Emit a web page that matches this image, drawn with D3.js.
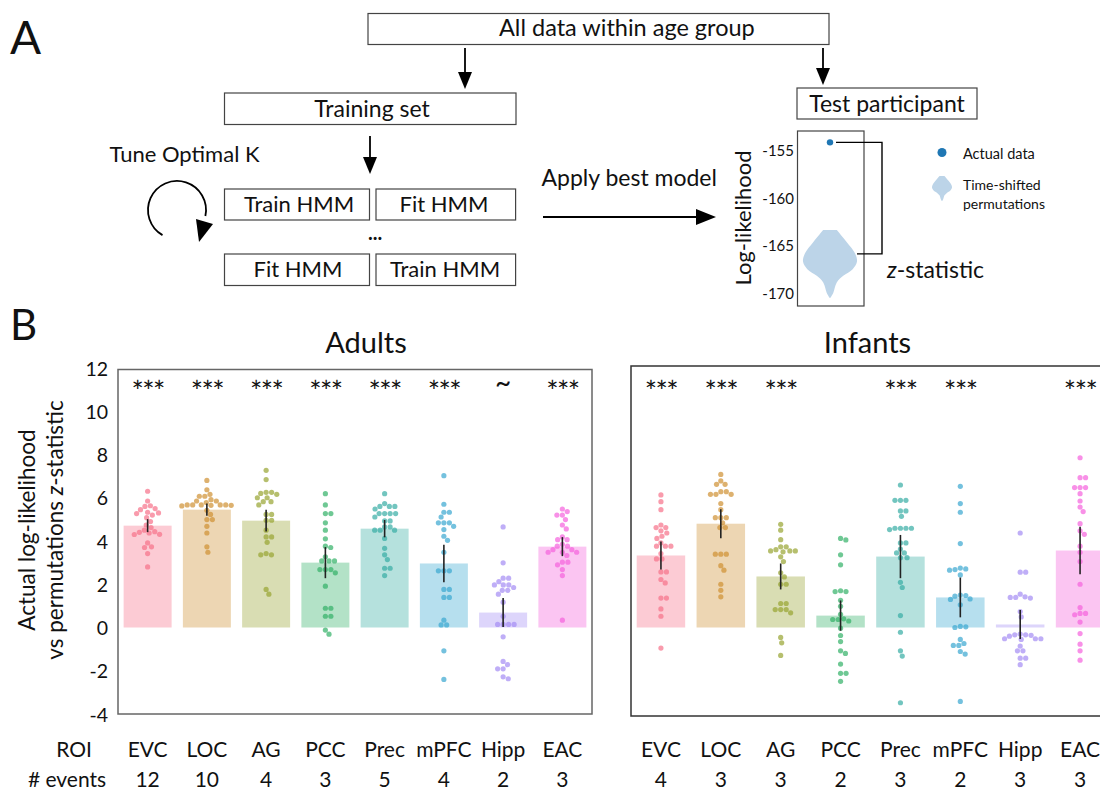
<!DOCTYPE html>
<html>
<head>
    <title>HMM event model fits</title>
    <script src="https://d3js.org/d3.v7.min.js"></script>
    <style>
        body {
            margin: 0;
            background: #fff;
            font-family: Lato, "Open Sans", sans-serif;
        }
        svg text {
            fill: #111;
        }
    </style>
</head>
<body>
    <div id="chart"></div>

    <script>
        // ROI labels and number of events per group
        const rois = ['EVC', 'LOC', 'AG', 'PCC', 'Prec', 'mPFC', 'Hipp', 'EAC'];
        const adultEvents = [12, 10, 4, 3, 5, 4, 2, 3];
        const infantEvents = [4, 3, 3, 2, 3, 2, 3, 3];

        // bar heights (mean z) and SEM
        const adultMeans = [4.71, 5.45, 4.94, 3.0, 4.57, 2.96, 0.69, 3.74];
        const adultErr = [0.3, 0.28, 0.5, 0.72, 0.4, 0.87, 0.67, 0.44];
        const infantMeans = [3.33, 4.8, 2.36, 0.55, 3.28, 1.39, 0.14, 3.56];
        const infantErr = [0.65, 0.67, 0.6, 0.7, 1.0, 0.92, 0.67, 1.1];

        // significance markers
        const adultSig = ['***', '***', '***', '***', '***', '***', '~', '***'];
        const infantSig = ['***', '***', '***', '', '***', '***', '', '***'];

        // per participant z-statistics, adults
        const adultEVC = [6.3, 5.85, 5.6, 5.63, 5.5, 5.45, 5.33, 5.3, 5.27, 5.2, 5.08, 4.9, 4.74, 4.62, 4.5, 4.43, 4.4, 4.37, 4.31, 4.3, 3.91, 3.73, 3.7, 3.42, 2.8];
        const adultLOC = [6.8, 6.37, 6.16, 6.07, 6.07, 5.91, 5.85, 5.85, 5.78, 5.67, 5.67, 5.67, 5.67, 5.67, 5.65, 5.65, 5.62, 5.42, 5.23, 4.99, 4.99, 4.68, 4.37, 3.73, 3.48];
        const adultAG = [7.27, 6.84, 6.25, 6.25, 6.2, 6.16, 6.0, 6.0, 5.82, 5.82, 5.67, 5.23, 5.23, 4.96, 4.96, 4.5, 4.19, 4.19, 3.94, 3.42, 3.36, 3.36, 1.76, 1.54];
        const adultPCC = [6.19, 5.67, 5.27, 5.27, 4.84, 4.5, 4.1, 3.76, 3.7, 3.27, 3.08, 3.08, 3.08, 2.68, 2.68, 2.68, 2.53, 1.91, 0.89, 0.89, 0.52, 0.52, -0.12, -0.31];
        const adultPrec = [6.19, 5.73, 5.6, 5.6, 5.6, 5.48, 5.27, 5.27, 5.27, 5.27, 5.11, 4.93, 4.93, 4.65, 4.65, 4.5, 4.5, 4.5, 4.12, 3.66, 3.36, 3.14, 2.74, 2.74, 2.4];
        const adultMPFC = [7.02, 5.7, 5.33, 5.33, 5.11, 4.84, 4.84, 4.84, 4.68, 4.53, 4.22, 4.03, 3.48, 2.62, 2.62, 2.62, 1.76, 1.76, 1.39, 1.39, 0.34, 0.12, 0.12, -1.08, -2.4];
        const adultHipp = [4.65, 2.99, 2.28, 2.28, 2.12, 1.97, 1.97, 1.97, 1.85, 1.72, 1.72, 1.54, 1.17, 0.52, 0.14, 0.14, 0.14, 0.14, -0.43, -1.57, -1.72, -1.91, -1.91, -2.28, -2.37];
        const adultEAC = [5.48, 5.36, 5.2, 5.2, 4.99, 4.74, 4.56, 4.19, 4.06, 4.06, 3.85, 3.76, 3.76, 3.6, 3.6, 3.48, 3.48, 3.48, 3.33, 3.02, 3.02, 2.9, 2.68, 2.4, 0.34];

        // per participant z-statistics, infants
        const infantEVC = [6.13, 5.82, 5.45, 4.74, 4.62, 4.62, 4.47, 4.37, 4.22, 4.12, 3.91, 3.76, 3.76, 3.76, 3.42, 3.17, 3.17, 2.57, 2.57, 2.22, 2.06, 1.36, 1.36, 0.86, 0.52, -0.95];
        const infantLOC = [7.08, 6.78, 6.62, 6.62, 6.28, 6.28, 6.16, 6.16, 6.16, 5.73, 5.45, 5.08, 5.08, 5.08, 4.84, 4.62, 4.62, 3.39, 3.39, 3.39, 2.86, 2.65, 2.0, 1.72, 1.42];
        const infantAG = [4.77, 4.5, 4.06, 3.73, 3.73, 3.6, 3.54, 3.54, 3.54, 3.5, 3.27, 3.05, 2.53, 2.34, 2.0, 2.0, 1.11, 1.11, 0.83, 0.83, 0.83, 0.68, -0.46, -0.71, -1.29];
        const infantPCC = [4.12, 4.05, 3.36, 2.9, 1.7, 1.66, 1.66, 1.26, 0.98, 0.61, 0.4, 0.37, 0.37, 0.3, -0.03, -0.37, -0.65, -1.08, -1.2, -1.69, -2.12, -2.12, -2.49];
        const infantPrec = [6.59, 5.88, 5.88, 5.88, 5.39, 5.39, 5.14, 4.59, 4.59, 4.59, 4.59, 4.53, 3.91, 3.91, 3.63, 3.45, 3.45, 3.23, 3.23, 2.09, 1.85, 0.55, -0.22, -1.08, -1.32, -3.48];
        const infantMPFC = [6.53, 5.73, 5.33, 3.88, 2.75, 2.71, 2.68, 2.65, 2.43, 1.5, 1.48, 1.45, 1.32, 1.3, 1.05, 0.05, 0.03, 0.0, -0.55, -0.74, -0.83, -0.83, -1.11, -1.23, -3.42];
        const infantHipp = [4.37, 2.56, 2.56, 1.54, 1.42, 1.39, 1.39, 1.36, 0.74, 0.49, -0.3, -0.34, -0.34, -0.36, -0.4, -0.52, -0.52, -0.52, -0.55, -0.86, -1.08, -1.08, -1.42, -1.42, -1.72];
        const infantEAC = [7.85, 6.93, 6.93, 6.47, 6.47, 6.47, 6.19, 5.85, 5.57, 5.36, 4.8, 4.47, 4.31, 3.76, 3.48, 3.05, 2.0, 0.92, 0.65, 0.65, 0.59, 0.25, -0.28, -0.77, -1.08, -1.51];

        const adultPoints = [adultEVC, adultLOC, adultAG, adultPCC, adultPrec, adultMPFC, adultHipp, adultEAC];
        const infantPoints = [infantEVC, infantLOC, infantAG, infantPCC, infantPrec, infantMPFC, infantHipp, infantEAC];

        const yTicks = [-4, -2, 0, 2, 4, 6, 8, 10, 12];

        // inset: one test participant
        const insetTicks = [-155, -160, -165, -170];
        const actualLL = -154.2;
        const permMeanLL = -165.9;
        const violinLL = [-163.4, -164.7, -165.8, -166.7, -167.5, -168.2, -168.9, -170.0, -170.5];
        const violinDensity = [0.25, 0.63, 0.92, 1.0, 0.84, 0.49, 0.25, 0.12, 0.02];

        const palette = ['#f77189', '#ce9032', '#97a431', '#32b166', '#36ada4', '#39a7d0', '#a48cf4', '#f561dd'];

        const width = 1100, height = 789;
        const svg = d3.select('#chart').append('svg')
            .attr('width', width)
            .attr('height', height);

        // ---------- helpers ----------
        function box(x0, y0, x1, y1) {
            svg.append('rect')
                .attr('x', x0).attr('y', y0)
                .attr('width', x1 - x0).attr('height', y1 - y0)
                .attr('fill', 'none')
                .attr('stroke', '#444')
                .attr('stroke-width', 1.2);
        }

        function label(x, y, txt, size, anchor) {
            return svg.append('text')
                .attr('x', x).attr('y', y)
                .attr('font-size', size)
                .attr('text-anchor', anchor || 'middle')
                .text(txt);
        }

        function arrowDown(x, y0, y1) {
            svg.append('line')
                .attr('x1', x).attr('x2', x)
                .attr('y1', y0).attr('y2', y1 - 12)
                .attr('stroke', '#000').attr('stroke-width', 1.8);
            svg.append('path')
                .attr('d', `M${x - 7},${y1 - 17}L${x + 7},${y1 - 17}L${x},${y1}Z`)
                .attr('fill', '#000');
        }

        // ---------- panel A ----------
        label(10, 54, 'A', 46, 'start');

        box(368, 13.5, 829, 44.5);
        label(499, 36, 'All data within age group', 23.5, 'start');
        arrowDown(465, 48, 89);
        arrowDown(823, 48, 85);

        box(224.5, 93, 516, 124.5);
        label(372, 117, 'Training set', 23);

        box(797, 88, 977, 119);
        label(887, 112, 'Test participant', 23);

        label(109.5, 162, 'Tune Optimal K', 22, 'start');
        arrowDown(370, 136, 174);

        box(224.5, 189, 369.5, 220);
        box(376, 189, 515.6, 220);
        box(224.5, 254, 369.5, 285.5);
        box(376, 254, 515.6, 285.5);
        label(299, 212, 'Train HMM', 22);
        label(444, 212, 'Fit HMM', 22);
        label(298, 277, 'Fit HMM', 22);
        label(445, 277, 'Train HMM', 22);
        label(375, 240, '...', 20).attr('font-weight', 'bold');

        // circular arrow
        const loop = d3.path();
        loop.arc(177, 210, 29, 120 * Math.PI / 180, 372 * Math.PI / 180);
        svg.append('path')
            .attr('d', loop.toString())
            .attr('fill', 'none')
            .attr('stroke', '#000')
            .attr('stroke-width', 1.8);
        svg.append('path')
            .attr('d', 'M196,219L213,224L199,242Z')
            .attr('fill', '#000');

        label(541.5, 186, 'Apply best model', 23, 'start');
        svg.append('line')
            .attr('x1', 543).attr('x2', 700)
            .attr('y1', 217).attr('y2', 217)
            .attr('stroke', '#000').attr('stroke-width', 1.8);
        svg.append('path')
            .attr('d', 'M696,209L716,217L696,225Z')
            .attr('fill', '#000');

        // inset log-likelihood
        const yInset = d3.scaleLinear().domain([-155, -170]).range([150, 293]);
        box(797.5, 131, 864, 306);
        insetTicks.forEach(t => {
            label(794, yInset(t), t, 15, 'end').attr('dominant-baseline', 'central');
        });
        svg.append('text')
            .attr('transform', `translate(751,218) rotate(-90)`)
            .attr('text-anchor', 'middle')
            .attr('font-size', 22)
            .text('Log-likelihood');

        const vx = d3.scaleLinear().domain([0, 1]).range([0, 27]);
        const violinArea = d3.area()
            .y(d => d.y)
            .curve(d3.curveCatmullRom);
        svg.append('path')
            .attr('d', violinArea
                .x0(d => 830 - d.w)
                .x1(d => 830 + d.w)(violinLL.map((v, i) => ({ y: yInset(v), w: vx(violinDensity[i]) }))))
            .attr('fill', '#bcd4e8');

        svg.append('circle')
            .attr('cx', 830).attr('cy', yInset(actualLL))
            .attr('r', 3.2)
            .attr('fill', '#1f77b4');

        svg.append('path')
            .attr('d', `M836,${yInset(actualLL)}H882V${yInset(permMeanLL)}H857`)
            .attr('fill', 'none')
            .attr('stroke', '#000')
            .attr('stroke-width', 1.4);

        const zt = svg.append('text')
            .attr('x', 887).attr('y', 278)
            .attr('font-size', 23);
        zt.append('tspan').attr('font-style', 'italic').text('z');
        zt.append('tspan').text('-statistic');

        // legend
        svg.append('circle')
            .attr('cx', 942).attr('cy', 152.5)
            .attr('r', 4.5).attr('fill', '#1f77b4');
        label(963, 153, 'Actual data', 14.5, 'start').attr('dominant-baseline', 'central');
        const yLeg = d3.scaleLinear().domain([violinLL[0], violinLL[violinLL.length - 1]]).range([176, 201]);
        const legW = d3.scaleLinear().domain([0, 1]).range([0, 10]);
        svg.append('path')
            .attr('d', violinArea
                .x0(d => 942 - d.w)
                .x1(d => 942 + d.w)(violinLL.map((v, i) => ({ y: yLeg(v), w: legW(violinDensity[i]) }))))
            .attr('fill', '#bcd4e8');
        label(963, 184.5, 'Time-shifted', 14, 'start').attr('dominant-baseline', 'central');
        label(963, 203, 'permutations', 14, 'start').attr('dominant-baseline', 'central');

        // ---------- panel B ----------
        label(10, 340, 'B', 42, 'start');

        const y = d3.scaleLinear().domain([-4, 12]).range([714, 368]);

        // y-axis labels
        yTicks.forEach(t => {
            label(108, y(t), t, 19.5, 'end').attr('dominant-baseline', 'central');
        });
        const yt = svg.append('text')
            .attr('transform', 'translate(27,530) rotate(-90)')
            .attr('text-anchor', 'middle')
            .attr('font-size', 22.5);
        yt.append('tspan').attr('x', 0).attr('dy', '0.35em').text('Actual log-likelihood');
        const yt2 = svg.append('text')
            .attr('transform', 'translate(55,530) rotate(-90)')
            .attr('text-anchor', 'middle')
            .attr('font-size', 22.5);
        yt2.append('tspan').attr('dy', '0.35em').text('vs permutations ');
        yt2.append('tspan').attr('font-style', 'italic').text('z');
        yt2.append('tspan').text('-statistic');

        label(74, 748, 'ROI', 21).attr('dominant-baseline', 'central');
        label(67, 778, '# events', 21).attr('dominant-baseline', 'central');

        // simple beeswarm: place each dot as close to centre as it fits
        function swarm(vals, r) {
            const d = 2 * r + 0.3;
            const pts = vals.map(v => ({ v: v, y: y(v) })).sort((a, b) => a.y - b.y);
            const placed = [];
            pts.forEach(p => {
                const near = placed.filter(q => Math.abs(q.y - p.y) < d);
                const cands = [0];
                near.forEach(q => {
                    const dx = Math.sqrt(d * d - (q.y - p.y) * (q.y - p.y));
                    cands.push(q.x + dx, q.x - dx);
                });
                cands.sort((a, b) => Math.abs(a) - Math.abs(b));
                for (const c of cands) {
                    if (near.every(q => (q.x - c) * (q.x - c) + (q.y - p.y) * (q.y - p.y) >= d * d - 1e-6)) {
                        p.x = c;
                        break;
                    }
                }
                placed.push(p);
            });
            return placed;
        }

        function drawPanel(opts) {
            const x = d3.scaleBand()
                .domain(rois)
                .range(opts.range)
                .paddingInner(0.19)
                .paddingOuter(0.095);

            const g = svg.append('g');

            svg.append('rect')
                .attr('x', opts.range[0]).attr('y', opts.top)
                .attr('width', opts.range[1] - opts.range[0])
                .attr('height', opts.bottom - opts.top)
                .attr('fill', 'none')
                .attr('stroke', opts.frame)
                .attr('stroke-width', 1.5);

            label((opts.range[0] + opts.range[1]) / 2 - opts.titleShift, 353, opts.title, 29);

            g.selectAll('rect.bar')
                .data(opts.means)
                .join('rect')
                .attr('class', 'bar')
                .attr('x', (d, i) => x(rois[i]))
                .attr('width', x.bandwidth())
                .attr('y', d => Math.min(y(d), y(0)))
                .attr('height', d => Math.abs(y(0) - y(d)))
                .attr('fill', (d, i) => palette[i])
                .attr('fill-opacity', 0.37);

            opts.points.forEach((vals, i) => {
                const cx = x(rois[i]) + x.bandwidth() / 2;
                g.selectAll(null)
                    .data(swarm(vals, 2.6))
                    .join('circle')
                    .attr('cx', d => cx + d.x)
                    .attr('cy', d => d.y)
                    .attr('r', 2.6)
                    .attr('fill', palette[i])
                    .attr('fill-opacity', 0.7);
            });

            g.selectAll('line.err')
                .data(opts.means)
                .join('line')
                .attr('class', 'err')
                .attr('x1', (d, i) => x(rois[i]) + x.bandwidth() / 2)
                .attr('x2', (d, i) => x(rois[i]) + x.bandwidth() / 2)
                .attr('y1', (d, i) => y(d + opts.err[i]))
                .attr('y2', (d, i) => y(d - opts.err[i]))
                .attr('stroke', '#222')
                .attr('stroke-width', 1.6);

            g.selectAll('text.sig')
                .data(opts.sig)
                .join('text')
                .attr('class', 'sig')
                .attr('x', (d, i) => x(rois[i]) + x.bandwidth() / 2)
                .attr('y', d => d === '~' ? 393 : 402)
                .attr('text-anchor', 'middle')
                .attr('font-size', d => d === '~' ? 28 : 29)
                .attr('letter-spacing', d => d === '~' ? 0 : -1.5)
                .text(d => d);

            rois.forEach((r, i) => {
                const cx = x(r) + x.bandwidth() / 2;
                label(cx, 748, r, 21).attr('dominant-baseline', 'central');
                label(cx, 778, opts.events[i], 21).attr('dominant-baseline', 'central');
            });
        }

        drawPanel({
            title: 'Adults', titleShift: -11,
            range: [118, 592], top: 369.5, bottom: 714,
            frame: '#666',
            means: adultMeans, err: adultErr, sig: adultSig,
            points: adultPoints, events: adultEvents
        });

        drawPanel({
            title: 'Infants', titleShift: 3,
            range: [631, 1110], top: 366, bottom: 716,
            frame: '#333',
            means: infantMeans, err: infantErr, sig: infantSig,
            points: infantPoints, events: infantEvents
        });
    </script>
</body>
</html>
